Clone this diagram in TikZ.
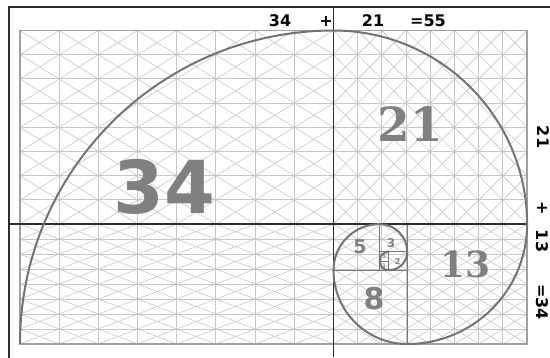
\documentclass[tikz,border=0pt]{standalone}
\usepackage{fontspec}
\setmainfont{DejaVu Sans}
\newfontfamily\slabfont{DejaVu Serif}
\usepackage{tikz}
\usetikzlibrary{calc}
\usepackage{xcolor}
\definecolor{gridgray}{RGB}{198,198,198}
\definecolor{framegray}{RGB}{160,160,160}
\definecolor{axisgray}{RGB}{45,45,45}
\definecolor{squaregray}{RGB}{120,120,120}
\definecolor{spiralgray}{RGB}{115,115,115}
\definecolor{numgray}{RGB}{128,128,128}

\begin{document}
\begin{tikzpicture}[
    x=9.22pt, y=9.22pt,
    gridline/.style={draw=gridgray, line width=0.9pt},
    diagline/.style={draw=gridgray, line width=0.6pt},
    framebox/.style={draw=framegray, line width=1.6pt},
    axisline/.style={draw=axisgray, line width=1.3pt},
    squareline/.style={draw=squaregray, line width=0.9pt},
    spiral/.style={draw=spiralgray, line width=2pt},
    sumlabel/.style={font=\bfseries\fontsize{16}{16}\selectfont, inner sep=0pt},
    bignum/.style={text=numgray, inner sep=0pt, font=\bfseries\fontsize{#1}{#1}\selectfont},
    slabnum/.style={text=numgray, inner sep=0pt, font=\slabfont\bfseries\fontsize{#1}{#1}\selectfont}
]
\useasboundingbox (-2.169,-1.518) rectangle (57.484,37.31);

% grid of the four regions, 8 x 8 cells each
\foreach \ox/\oy/\w/\h in {0/13/34/21, 34/13/21/21, 0/0/34/13, 34/0/21/13} {
  \foreach \i in {0,...,7} {
    \foreach \j in {0,...,7} {
      \draw[diagline] ({\ox+\i*\w/8},{\oy+\j*\h/8}) -- ++({\w/8},{\h/8});
      \draw[diagline] ({\ox+\i*\w/8},{\oy+(\j+1)*\h/8}) -- ++({\w/8},{-\h/8});
    }
  }
  \foreach \i in {1,...,7} {
    \draw[gridline] ({\ox+\i*\w/8},\oy) -- ++(0,\h);
    \draw[gridline] (\ox,{\oy+\i*\h/8}) -- ++(\w,0);
  }
}

\draw[framebox] (0,0) rectangle (55,34);

% small squares
\draw[squareline] (42,0) -- (42,13);
\draw[squareline] (34,8) -- (42,8);
\draw[squareline] (39,8) -- (39,13);
\draw[squareline] (39,10) -- (42,10);
\draw[squareline] (40,8) -- (40,10);
\draw[squareline] (39,9) -- (40,9);

% frame and axes
\coordinate (tl) at (-1.193,36.55);
\coordinate (tr) at (57.484,36.55);
\coordinate (bl) at (-1.193,-1.518);
\draw[axisline] (tr) -- (tl) -- (bl);
\draw[axisline] (34,36.55) -- (34,-1.45);
\draw[axisline] (-1.193,13) -- (55.1,13);

% spiral
\draw[spiral] (0,0) arc[start angle=180, end angle=90, radius=34]
  arc[start angle=90, end angle=0, radius=21]
  arc[start angle=0, end angle=-90, radius=13]
  arc[start angle=-90, end angle=-180, radius=8]
  arc[start angle=180, end angle=90, radius=5]
  arc[start angle=90, end angle=0, radius=3]
  arc[start angle=0, end angle=-90, radius=2]
  arc[start angle=-90, end angle=-180, radius=1]
  arc[start angle=180, end angle=90, radius=1];

% numbers in the squares
\node[bignum=73] (n34) at (15.62,17.03) {34};
\node[slabnum=47] (n21) at (42.3,23.86) {21};
\node[slabnum=36] (n13) at (48.37,8.68) {13};
\node[bignum=30] (n8) at (38.39,4.88) {8};
\node[bignum=19] (n5) at (36.88,10.52) {5};
\node[bignum=12] (n3) at (40.24,10.95) {3};
\node[bignum=8] (n2) at (40.95,8.95) {2};
\node[bignum=5] (n1a) at (39.5,9.5) {1};
\node[bignum=5] (n1b) at (39.5,8.5) {1};

% sums along the top
\node[sumlabel] (t34) at (28.2,35.03) {34};
\node[sumlabel] (tplus) at (33.19,35.03) {+};
\node[sumlabel] (t21) at (38.29,35.03) {21};
\node[sumlabel] (t55) at (44.25,35.03) {=55};

% sums along the right side
\node[sumlabel, rotate=-90] (r21) at (56.73,22.45) {21};
\node[sumlabel, rotate=-90] (rplus) at (56.62,14.75) {+};
\node[sumlabel, rotate=-90] (r13) at (56.62,11.17) {13};
\node[sumlabel, rotate=-90] (r34) at (56.62,4.56) {=34};
\end{tikzpicture}
\end{document}
